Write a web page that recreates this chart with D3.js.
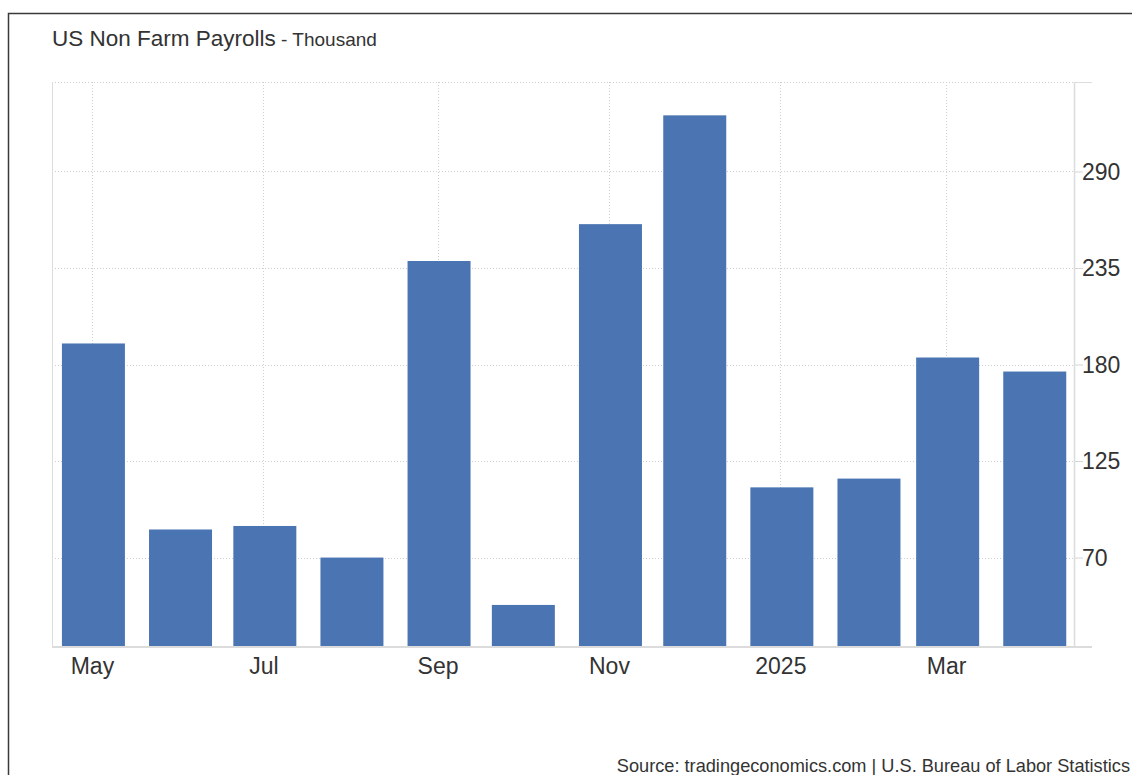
<!DOCTYPE html>
<html>
<head>
<meta charset="utf-8">
<script src="https://cdn.jsdelivr.net/npm/d3@7"></script>
<style>
  html, body { margin: 0; padding: 0; background: #fff; overflow: hidden; }
  svg { display: block; font-family: "Liberation Sans", Arial, sans-serif; }
</style>
</head>
<body>
<script>
// data (thousands)
const months = ["2024-05", "2024-06", "2024-07", "2024-08", "2024-09", "2024-10",
                "2024-11", "2024-12", "2025-01", "2025-02", "2025-03", "2025-04"];
const payrolls = [192, 86, 88, 70, 239, 43, 260, 322, 110, 115, 184, 176];

const yTicks = [70, 125, 180, 235, 290];
const xTickMonths = ["2024-05", "2024-07", "2024-09", "2024-11", "2025-01", "2025-03"];
const xTickLabels = ["May", "Jul", "Sep", "Nov", "2025", "Mar"];

const W = 1132, H = 775;
const plot = { left: 52, right: 1074, top: 82, bottom: 646 };

const parse = d3.utcParse("%Y-%m");
const data = months.map((m, i) => ({ date: parse(m), value: payrolls[i] }));

const svg = d3.select("body").append("svg")
    .attr("width", W)
    .attr("height", H);

// frame around the widget (right/bottom edges fall outside the shot)
svg.append("rect")
    .attr("x", 8.5).attr("y", 13.5)
    .attr("width", W + 20).attr("height", H + 20)
    .attr("fill", "none")
    .attr("stroke", "#3a3a3a")
    .attr("stroke-width", 1.5);

var xScale = d3.scaleUtc()
    .domain([new Date(Date.UTC(2024, 3, 16, 19)), new Date(Date.UTC(2025, 3, 15, 12))])
    .range([plot.left, plot.right]);

var yScale = d3.scaleLinear()
    .domain([19.6, 341])
    .range([plot.bottom, plot.top]);

// horizontal dotted grid
svg.append("g")
    .selectAll("line")
    .data(yTicks.concat([yScale.domain()[1]]))
  .enter().append("line")
    .attr("x1", plot.left).attr("x2", plot.right)
    .attr("y1", d => Math.round(yScale(d)) + 0.5)
    .attr("y2", d => Math.round(yScale(d)) + 0.5)
    .attr("stroke", "#cfcfcf")
    .attr("stroke-dasharray", "1,2");

// vertical dotted grid
svg.append("g")
    .selectAll("line")
    .data(xTickMonths.map(parse))
  .enter().append("line")
    .attr("x1", d => Math.round(xScale(d)) + 0.5)
    .attr("x2", d => Math.round(xScale(d)) + 0.5)
    .attr("y1", plot.top).attr("y2", plot.bottom)
    .attr("stroke", "#cfcfcf")
    .attr("stroke-dasharray", "1,2");

// left plot edge
svg.append("line")
    .attr("x1", plot.left + 0.5).attr("x2", plot.left + 0.5)
    .attr("y1", plot.top).attr("y2", plot.bottom)
    .attr("stroke", "#dcdcdc");

// bars
const barW = 63;
svg.selectAll(".bar")
    .data(data)
  .enter().append("rect")
    .attr("class", "bar")
    .attr("x", d => xScale(d.date) + 1.5 - barW / 2)
    .attr("y", d => yScale(d.value))
    .attr("width", barW)
    .attr("height", d => plot.bottom - yScale(d.value))
    .attr("fill", "#4a75b2");

// right value axis
const yAxis = svg.append("g")
    .attr("transform", "translate(" + plot.right + ",0)")
    .call(d3.axisRight(yScale)
        .tickValues(yTicks)
        .tickSize(9)
        .tickPadding(0));
yAxis.select(".domain").remove();
yAxis.selectAll(".tick line").attr("stroke", "#d4d4d4");
yAxis.selectAll(".tick text")
    .attr("x", 8)
    .attr("dy", "0.33em")
    .attr("fill", "#333")
    .style("font-size", "23px");

svg.append("line")
    .attr("x1", plot.right + 0.5).attr("x2", plot.right + 0.5)
    .attr("y1", plot.top).attr("y2", plot.bottom)
    .attr("stroke", "#dcdcdc")
    .attr("stroke-width", 1.5);
svg.append("line")
    .attr("x1", plot.right).attr("x2", plot.right + 18)
    .attr("y1", plot.top + 0.5).attr("y2", plot.top + 0.5)
    .attr("stroke", "#dcdcdc");

// bottom time axis
const xAxis = svg.append("g")
    .attr("transform", "translate(0," + plot.bottom + ")")
    .call(d3.axisBottom(xScale)
        .tickValues(xTickMonths.map(parse))
        .tickSize(0)
        .tickPadding(12)
        .tickFormat((d, i) => xTickLabels[i]));
xAxis.select(".domain").remove();
xAxis.selectAll(".tick text")
    .attr("fill", "#333")
    .style("font-size", "23px");

svg.append("line")
    .attr("x1", plot.left).attr("x2", plot.right + 18)
    .attr("y1", plot.bottom + 1).attr("y2", plot.bottom + 1)
    .attr("stroke", "#dcdcdc")
    .attr("stroke-width", 2);

// title
const title = svg.append("text")
    .attr("x", 52).attr("y", 46)
    .attr("fill", "#333");
title.append("tspan")
    .style("font-size", "22.5px")
    .text("US Non Farm Payrolls");
title.append("tspan")
    .style("font-size", "19px")
    .text(" - Thousand");

// source line
svg.append("text")
    .attr("x", 1130).attr("y", 772)
    .attr("text-anchor", "end")
    .attr("fill", "#333")
    .style("font-size", "18.2px")
    .text("Source: tradingeconomics.com | U.S. Bureau of Labor Statistics");
</script>
</body>
</html>
